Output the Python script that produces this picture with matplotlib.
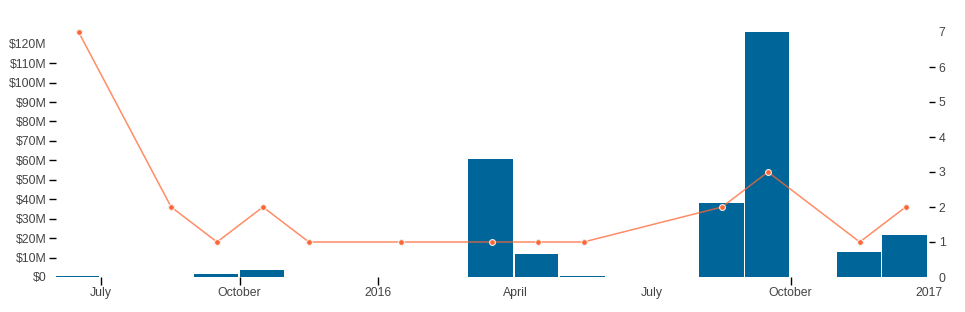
import matplotlib.pyplot as plt
import matplotlib.dates as mdates
import pandas as pd

# monthly totals (bars, left axis) and monthly counts (line, right axis)
bar_months = ['2015-06', '2015-09', '2015-10', '2016-03', '2016-04', '2016-05',
              '2016-08', '2016-09', '2016-11', '2016-12']
bar_values = [0.3e6, 1.7e6, 3.8e6, 60.7e6, 11.8e6, 0.3e6,
              38.2e6, 126e6, 12.9e6, 21.6e6]

count_months = ['2015-06', '2015-08', '2015-09', '2015-10', '2015-11', '2016-01',
                '2016-03', '2016-04', '2016-05', '2016-08', '2016-09', '2016-11', '2016-12']
counts = [7, 2, 1, 2, 1, 1, 1, 1, 1, 2, 3, 1, 2]

tick_dates = ['2015-07-01', '2015-10-01', '2016-01-01', '2016-04-01',
              '2016-07-01', '2016-10-01', '2017-01-01']
tick_labels = ['July', 'October', '2016', 'April', 'July', 'October', '2017']
hidden_x_ticks = ['2016-04-01', '2016-07-01', '2017-01-01']

left_ticks = [i * 10e6 for i in range(13)]
left_labels = ['$0'] + ['$%dM' % (i * 10) for i in range(1, 13)]
right_ticks = list(range(8))

BLUE = '#006699'
ORANGE = '#ff6633'
TEXT = '#444444'

plt.rcParams['font.family'] = ['Liberation Sans', 'DejaVu Sans']
plt.rcParams['font.size'] = 8.8

fig = plt.figure(figsize=(9.65, 3.12), dpi=100)
ax = fig.add_axes([56 / 965, 35 / 312, 873 / 965, 245 / 312])
ax2 = ax.twinx()

starts = pd.to_datetime(bar_months)
widths = [d - 1.2 for d in starts.days_in_month]
ax.bar(mdates.date2num(starts), bar_values, width=widths, align='edge', color=BLUE, zorder=2)

cstarts = pd.to_datetime(count_months)
mids = mdates.date2num(cstarts) + cstarts.days_in_month.values / 2.0
ax2.plot(mids, counts, color=ORANGE, lw=1.1, alpha=0.75, zorder=3, clip_on=False)
ax2.plot(mids, counts, 'o', ms=4.2, mfc=ORANGE, mec='#f0f0f0', mew=0.8, zorder=4, clip_on=False)

ax.set_xlim(mdates.date2num(pd.Timestamp('2015-06-01')), mdates.date2num(pd.Timestamp('2017-01-01')))
ax.set_ylim(0, 126e6)
ax2.set_ylim(0, 7)

ax.set_xticks(mdates.date2num(pd.to_datetime(tick_dates)))
ax.set_xticklabels(tick_labels, color=TEXT)
ax.set_yticks(left_ticks)
ax.set_yticklabels(left_labels, color=TEXT)
ax2.set_yticks(right_ticks)
ax2.set_yticklabels([str(t) for t in right_ticks], color=TEXT)

ax.tick_params(axis='x', length=6, width=1, color='black', pad=1)
ax.tick_params(axis='y', length=5, width=1, color='black', pad=2)
ax2.tick_params(axis='y', length=4, width=1, color='black', pad=3)

for t, d in zip(ax.xaxis.get_major_ticks(), tick_dates):
    if d in hidden_x_ticks:
        t.tick1line.set_visible(False)
yt = ax.yaxis.get_major_ticks()
yt[0].tick1line.set_visible(False)
yt[-1].tick1line.set_visible(False)
rt = ax2.yaxis.get_major_ticks()
rt[0].tick2line.set_visible(False)
rt[-1].tick2line.set_visible(False)

for a in (ax, ax2):
    for s in a.spines.values():
        s.set_visible(False)

fig.savefig('out.png', dpi=100)
